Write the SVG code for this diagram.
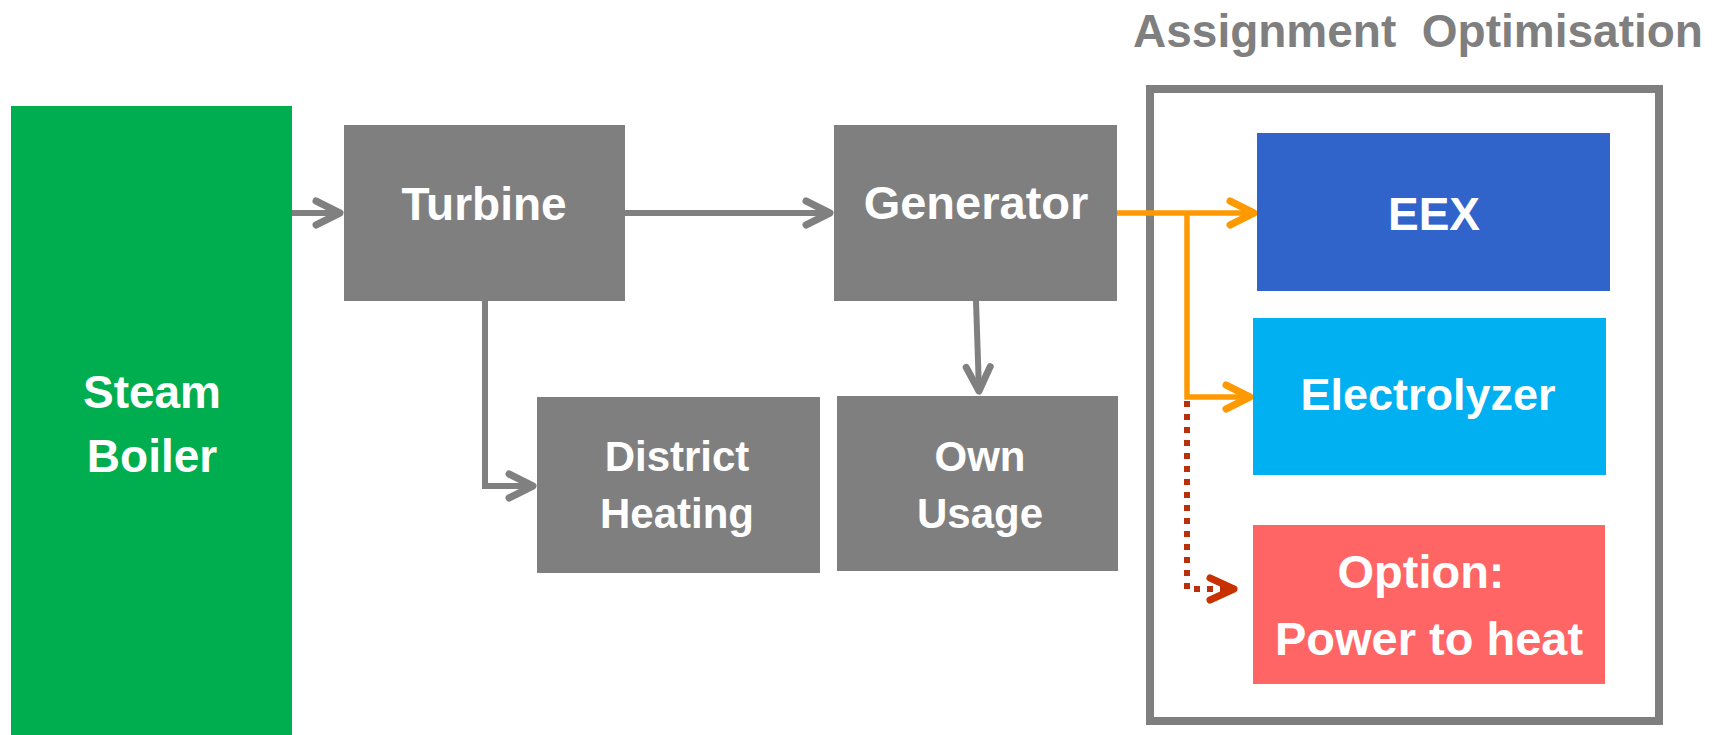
<svg xmlns="http://www.w3.org/2000/svg" width="1715" height="735" viewBox="0 0 1715 735">
<style>
.lbl{font-family:"Liberation Sans",Arial,sans-serif;font-weight:bold;fill:#ffffff;text-anchor:middle}
.gray{fill:#7f7f7f}
.conn{fill:none;stroke-width:6}
.g{stroke:#808080}
.o{stroke:#ff9900;stroke-width:5.5}
.d{stroke:#b8300c;stroke-width:6;stroke-dasharray:6 7}
</style>
<defs>
<marker id="ahG" markerUnits="userSpaceOnUse" markerWidth="40" markerHeight="40" refX="0" refY="0" orient="auto" overflow="visible">
<path d="M-24,-12 L0,0 L-24,12" fill="none" stroke="#808080" stroke-width="7" stroke-linecap="round" stroke-linejoin="round"/>
</marker>
<marker id="ahO" markerUnits="userSpaceOnUse" markerWidth="40" markerHeight="40" refX="0" refY="0" orient="auto" overflow="visible">
<path d="M-24,-12 L0,0 L-24,12" fill="none" stroke="#ff9900" stroke-width="7" stroke-linecap="round" stroke-linejoin="round"/>
</marker>
<marker id="ahD" markerUnits="userSpaceOnUse" markerWidth="40" markerHeight="40" refX="0" refY="0" orient="auto" overflow="visible">
<path d="M-24,-11 L0,0 L-24,11" fill="none" stroke="#c83200" stroke-width="7" stroke-dasharray="none" stroke-linecap="round" stroke-linejoin="round"/>
</marker>
</defs>
<rect width="1715" height="735" fill="#ffffff"/>

<g id="assignment-optimisation">
<rect x="1150" y="89" width="509" height="632" fill="none" stroke="#7f7f7f" stroke-width="8"/>
<text x="1133" y="47" style="font-family:'Liberation Sans',Arial,sans-serif;font-weight:bold;font-size:46px;fill:#7f7f7f">Assignment&#160; Optimisation</text>
</g>

<g id="connectors">
<path class="conn g" d="M292,213 H340" marker-end="url(#ahG)"/>
<path class="conn g" d="M625,213 H830" marker-end="url(#ahG)"/>
<path class="conn g" d="M485,301 V486 H533" marker-end="url(#ahG)"/>
<path class="conn g" d="M976,301 L979,391" marker-end="url(#ahG)"/>
<path class="conn o" d="M1117,213 H1254" marker-end="url(#ahO)"/>
<path class="conn o" d="M1187,213 V397 H1250" marker-end="url(#ahO)"/>
<path class="conn d" d="M1187,401 V589 H1234" marker-end="url(#ahD)"/>
</g>

<g id="steam-boiler">
<rect x="11" y="106" width="281" height="640" fill="#00ae4f"/>
<text class="lbl" x="152" y="408" font-size="46">Steam</text>
<text class="lbl" x="152" y="472" font-size="46">Boiler</text>
</g>

<g id="turbine">
<rect class="gray" x="344" y="125" width="281" height="176"/>
<text class="lbl" x="484" y="220" font-size="46">Turbine</text>
</g>

<g id="generator">
<rect class="gray" x="834" y="125" width="283" height="176"/>
<text class="lbl" x="976" y="219" font-size="47">Generator</text>
</g>

<g id="district-heating">
<rect class="gray" x="537" y="397" width="283" height="176"/>
<text class="lbl" x="677" y="471" font-size="42">District</text>
<text class="lbl" x="677" y="528" font-size="42">Heating</text>
</g>

<g id="own-usage">
<rect class="gray" x="837" y="396" width="281" height="175"/>
<text class="lbl" x="980" y="471" font-size="42">Own</text>
<text class="lbl" x="980" y="528" font-size="42">Usage</text>
</g>

<g id="eex">
<rect x="1257" y="133" width="353" height="158" fill="#3164cb"/>
<text class="lbl" x="1434" y="230" font-size="46">EEX</text>
</g>

<g id="electrolyzer">
<rect x="1253" y="318" width="353" height="157" fill="#00b0f0"/>
<text class="lbl" x="1428" y="410" font-size="45">Electrolyzer</text>
</g>

<g id="power-to-heat">
<rect x="1253" y="525" width="352" height="159" fill="#ff6565"/>
<text class="lbl" x="1421" y="588" font-size="47">Option:</text>
<text class="lbl" x="1429" y="655" font-size="47">Power to heat</text>
</g>
</svg>
